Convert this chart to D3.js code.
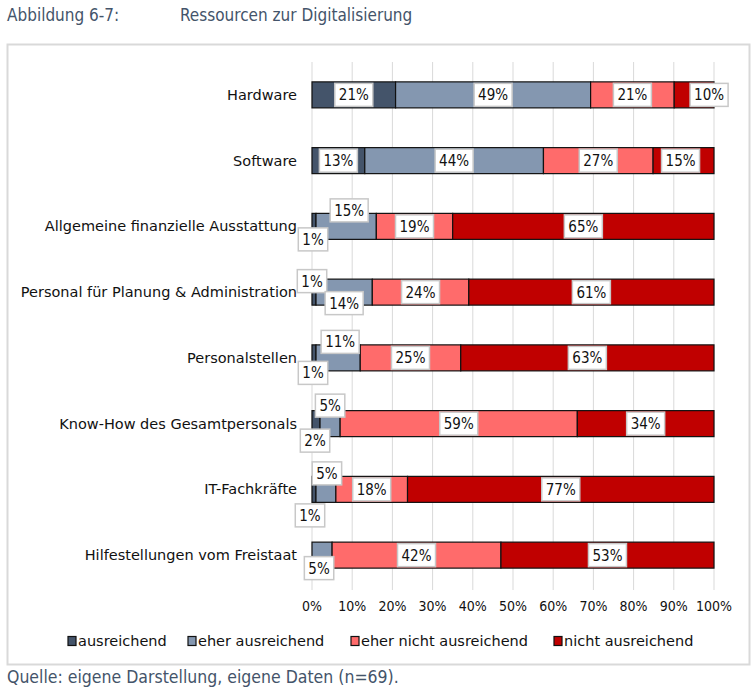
<!DOCTYPE html>
<html>
<head>
<meta charset="utf-8">
<script src="https://cdn.jsdelivr.net/npm/d3@7"></script>
<style>
  body { margin: 0; background: #fff; }
  svg { display: block; }
</style>
</head>
<body>
<svg id="chart" width="756" height="693"></svg>
<script>
const categories = [
  'Hardware',
  'Software',
  'Allgemeine finanzielle Ausstattung',
  'Personal für Planung & Administration',
  'Personalstellen',
  'Know-How des Gesamtpersonals',
  'IT-Fachkräfte',
  'Hilfestellungen vom Freistaat'
]
const seriesNames = ['ausreichend', 'eher ausreichend', 'eher nicht ausreichend', 'nicht ausreichend']

// percent per category, one array per series
const ausreichend = [21, 13, 1, 1, 1, 2, 1, 0]
const eherAusreichend = [49, 44, 15, 14, 11, 5, 5, 5]
const eherNichtAusreichend = [21, 27, 19, 24, 25, 59, 18, 42]
const nichtAusreichend = [10, 15, 65, 61, 63, 34, 77, 53]

const ticks = [0, 10, 20, 30, 40, 50, 60, 70, 80, 90, 100]

const colors = ['#44546a', '#8497b0', '#ff6b6b', '#c00000']

// label nudges [dx, dy] for the crowded small segments
const nudges = [
  [[0, 0], [0, 0], [0, 0], [15, 0]],
  [[0, 0], [0, 0], [0, 0], [-3, 0]],
  [[-1, 13], [3, -16], [0, 0], [0, 0]],
  [[-2, -11], [0, 11], [0, 0], [0, 0]],
  [[-1, 15], [2, -16], [0, 0], [0, 0]],
  [[-1, 17], [0, -18], [0, 0], [0, 0]],
  [[-4, 26], [1, -16], [0, 0], [0, 0]],
  [[0, 0], [-3, 13], [0, 0], [0, 0]]
]

const values = [ausreichend, eherAusreichend, eherNichtAusreichend, nichtAusreichend]

const rows = categories.map((c, i) => {
  const total = d3.sum(values, (s) => s[i])
  let acc = 0
  const segs = values.map((s, k) => {
    const v = s[i]
    const seg = {cat: c, row: i, k: k, v: v, x0: acc / total, x1: (acc + v) / total}
    acc += v
    return seg
  })
  return {cat: c, segs: segs}
})

const svg = d3.select('#chart')
const font = 'DejaVu Sans'
const docFont = 'DejaVu Sans Condensed'
const ink = '#111'

// title + source
svg.append('text').attr('x', 7).attr('y', 21)
  .attr('font-family', docFont).attr('font-size', 17).attr('fill', '#44546a')
  .text('Abbildung 6-7:')
svg.append('text').attr('x', 180).attr('y', 21)
  .attr('font-family', docFont).attr('font-size', 17).attr('fill', '#44546a')
  .text('Ressourcen zur Digitalisierung')
svg.append('text').attr('x', 7).attr('y', 683)
  .attr('font-family', docFont).attr('font-size', 17.5).attr('fill', '#44546a')
  .text('Quelle: eigene Darstellung, eigene Daten (n=69).')

// frame
svg.append('rect')
  .attr('x', 7.5).attr('y', 44.5).attr('width', 742).attr('height', 620)
  .attr('fill', '#fff').attr('stroke', '#d9d9d9').attr('stroke-width', 2)

const x = d3.scaleLinear().domain([0, 1]).range([312, 714])
const y = d3.scaleBand().domain(categories).range([62, 588])
const barH = 26

// gridlines
svg.append('g').selectAll('line')
  .data(ticks)
  .join('line')
  .attr('x1', (d) => x(d / 100)).attr('x2', (d) => x(d / 100))
  .attr('y1', y.range()[0]).attr('y2', y.range()[1] + 2)
  .attr('stroke', '#d9d9d9').attr('stroke-width', 1)

// tick labels
svg.append('g').selectAll('text')
  .data(ticks)
  .join('text')
  .attr('x', (d) => x(d / 100)).attr('y', 611)
  .attr('text-anchor', 'middle')
  .attr('font-family', docFont).attr('font-size', 14).attr('fill', ink)
  .text((d) => d + '%')

// category labels
svg.append('g').selectAll('text')
  .data(categories)
  .join('text')
  .attr('x', 297).attr('y', (d) => y(d) + y.bandwidth() / 2)
  .attr('dy', '0.35em')
  .attr('text-anchor', 'end')
  .attr('font-family', font).attr('font-size', 14.5).attr('fill', ink)
  .text((d) => d)

// bars
const rowG = svg.append('g').selectAll('g')
  .data(rows)
  .join('g')
  .attr('transform', (d) => `translate(0,${y(d.cat) + (y.bandwidth() - barH) / 2})`)

rowG.selectAll('rect')
  .data((d) => d.segs.filter((s) => s.v > 0))
  .join('rect')
  .attr('x', (d) => x(d.x0))
  .attr('width', (d) => x(d.x1) - x(d.x0))
  .attr('y', 0).attr('height', barH)
  .attr('fill', (d) => colors[d.k])
  .attr('stroke', '#111').attr('stroke-width', 1.2)

// data labels
const labels = svg.append('g').selectAll('g')
  .data(rows.flatMap((r) => r.segs.filter((s) => s.v > 0)))
  .join('g')
  .attr('transform', (d) => {
    const n = nudges[d.row][d.k]
    const cx = x((d.x0 + d.x1) / 2) + n[0]
    const cy = y(d.cat) + y.bandwidth() / 2 + n[1]
    return `translate(${cx},${cy})`
  })

labels.append('rect')
labels.append('text')
  .attr('text-anchor', 'middle').attr('dy', '0.36em')
  .attr('font-family', docFont).attr('font-size', 15).attr('fill', ink)
  .text((d) => d.v + '%')

labels.each(function () {
  const g = d3.select(this)
  const w = g.select('text').node().getComputedTextLength() + 8
  g.select('rect')
    .attr('x', -w / 2).attr('y', -11.5).attr('width', w).attr('height', 23)
    .attr('fill', '#fff').attr('stroke', '#c8c8c8').attr('stroke-width', 1.5)
})

// legend
const legendX = [68, 188, 351, 554]
const legend = svg.append('g').selectAll('g')
  .data(seriesNames)
  .join('g')
  .attr('transform', (d, i) => `translate(${legendX[i]},641)`)

legend.append('rect')
  .attr('x', 0).attr('y', -4.5).attr('width', 8).attr('height', 9)
  .attr('fill', (d, i) => colors[i])
  .attr('stroke', '#111').attr('stroke-width', 1.2)

legend.append('text')
  .attr('x', 10).attr('dy', '0.35em')
  .attr('font-family', font).attr('font-size', 14.5).attr('fill', ink)
  .text((d) => d)
</script>
</body>
</html>
